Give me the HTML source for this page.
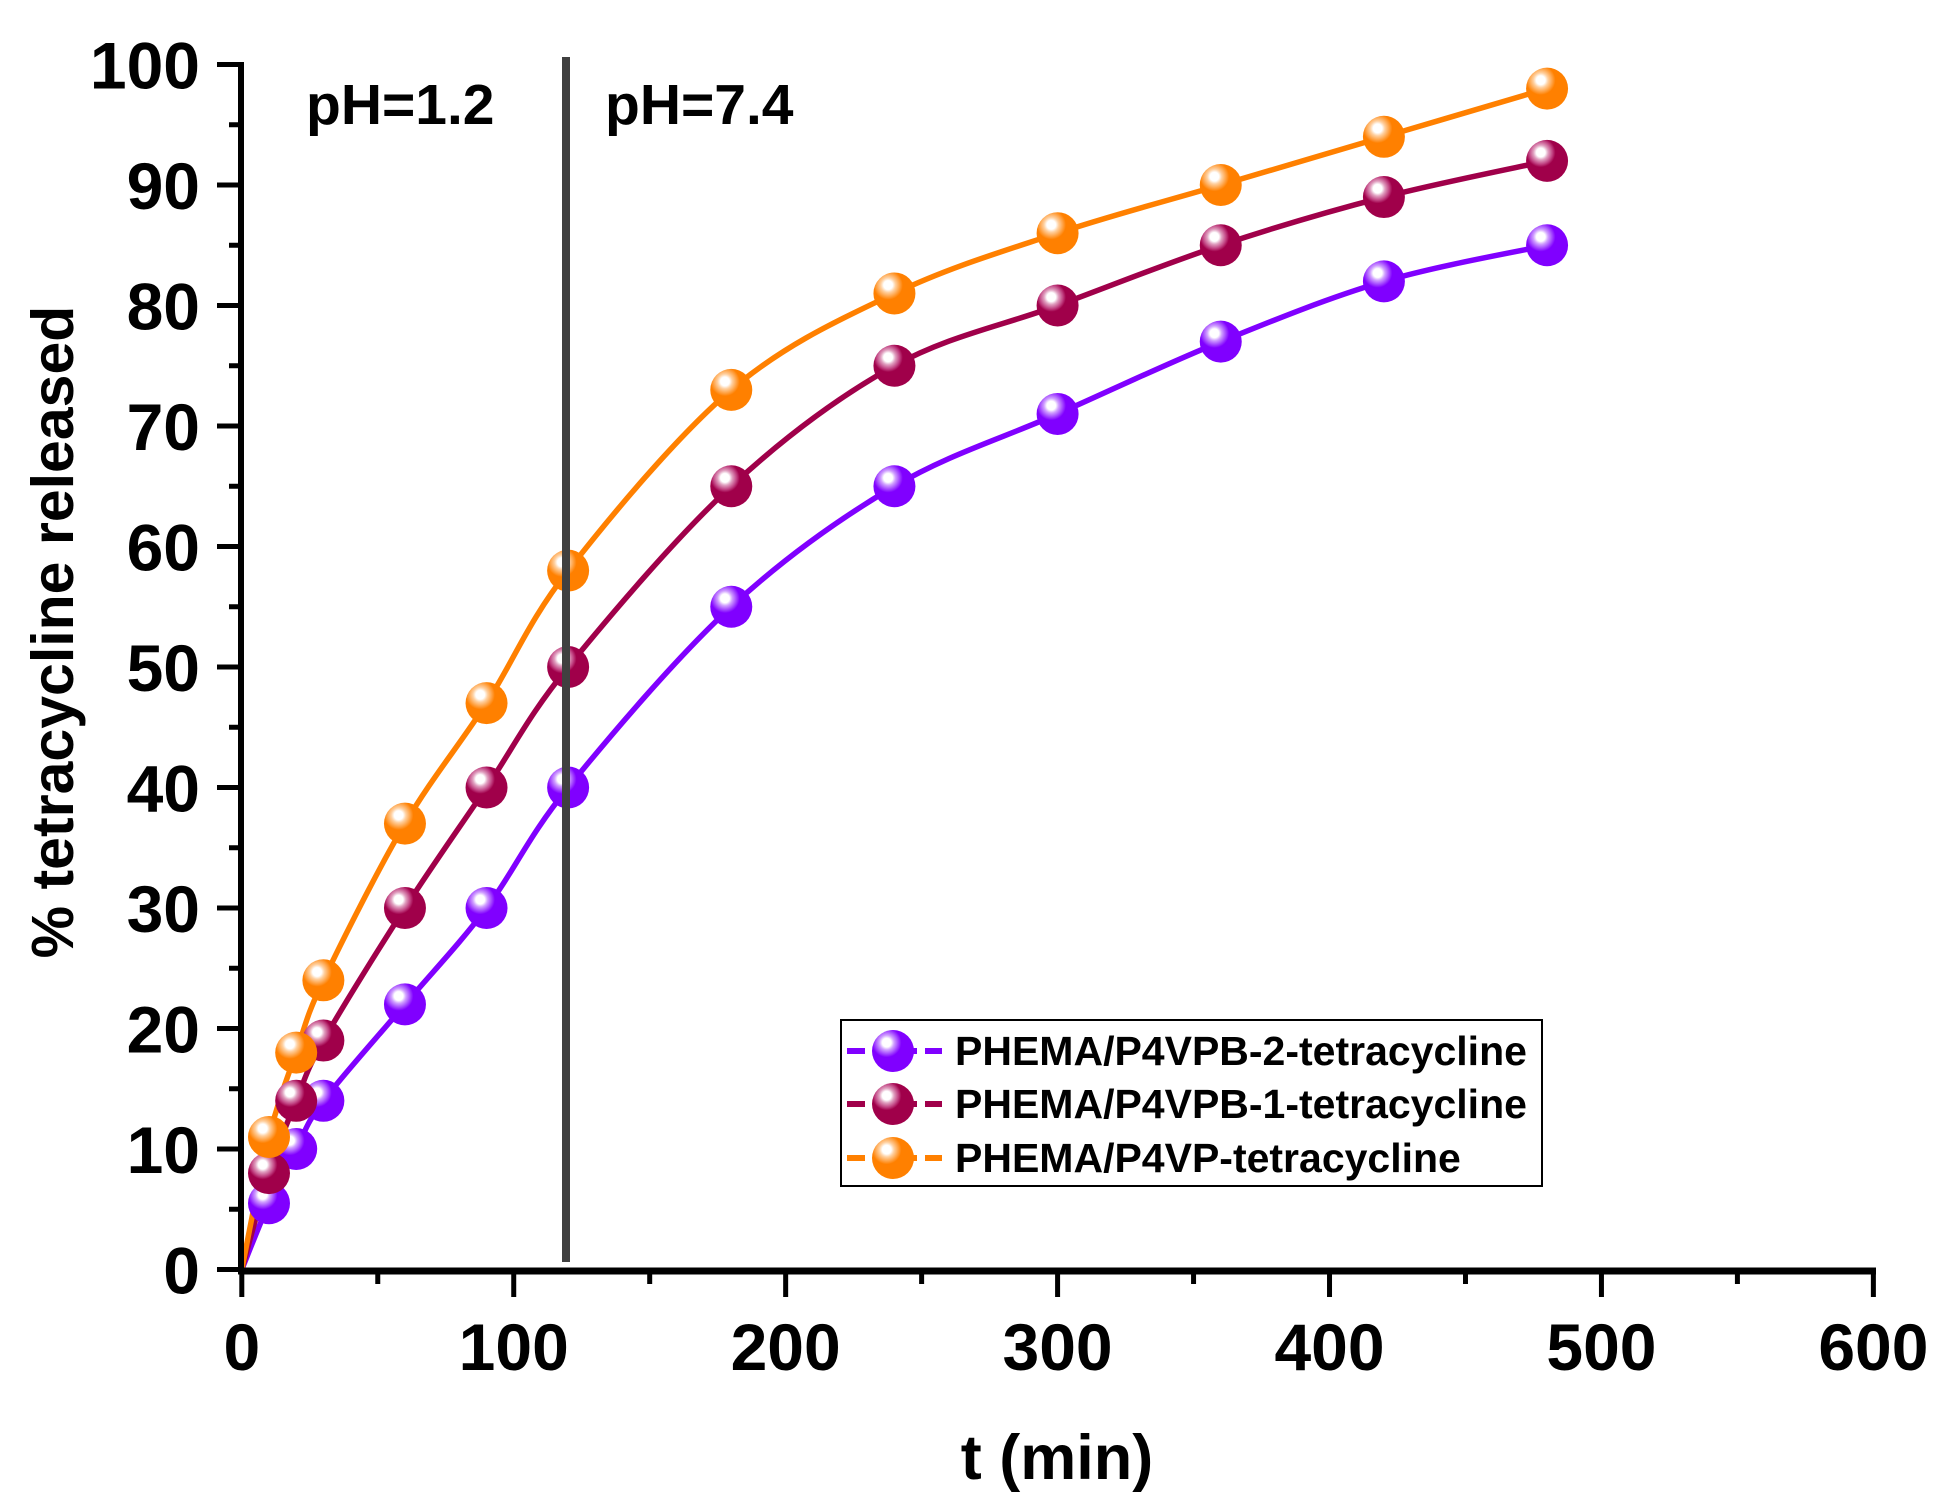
<!DOCTYPE html>
<html><head><meta charset="utf-8"><style>
body{margin:0;background:#fff}
svg{display:block}
text{font-family:"Liberation Sans",Arial,sans-serif;font-weight:bold;fill:#000}
</style></head><body>
<svg id="s" width="1944" height="1511" viewBox="0 0 1944 1511" xmlns="http://www.w3.org/2000/svg">
<defs>
<radialGradient id="gO" cx="0.35" cy="0.3" r="0.7"><stop offset="0" stop-color="#fff"/><stop offset="0.15" stop-color="#fff"/><stop offset="0.25" stop-color="#ffd0a0"/><stop offset="0.4" stop-color="#ffa040"/><stop offset="0.5" stop-color="#ff8000"/><stop offset="1" stop-color="#ff8000"/></radialGradient>
<radialGradient id="gM" cx="0.35" cy="0.3" r="0.7"><stop offset="0" stop-color="#fff"/><stop offset="0.15" stop-color="#fff"/><stop offset="0.25" stop-color="#e0a0c0"/><stop offset="0.4" stop-color="#c04080"/><stop offset="0.5" stop-color="#a0004a"/><stop offset="1" stop-color="#a0004a"/></radialGradient>
<radialGradient id="gP" cx="0.35" cy="0.3" r="0.7"><stop offset="0" stop-color="#fff"/><stop offset="0.15" stop-color="#fff"/><stop offset="0.25" stop-color="#d0a0ff"/><stop offset="0.4" stop-color="#a040ff"/><stop offset="0.5" stop-color="#8000ff"/><stop offset="1" stop-color="#8000ff"/></radialGradient>
</defs>
<g id="plot"></g>
<line x1="241" y1="62" x2="241" y2="1272" stroke="#000" stroke-width="6"/>
<line x1="238" y1="1271" x2="1876" y2="1271" stroke="#000" stroke-width="7"/>
<g id="ticks" stroke="#000" stroke-width="5"></g>
<g id="labels" font-size="66"></g>
<line x1="566" y1="57" x2="566" y2="1262" stroke="#404040" stroke-width="8"/>
<text x="306" y="124" font-size="57">pH=1.2</text>
<text x="605" y="124" font-size="57">pH=7.4</text>
<text transform="translate(73,632) rotate(-90)" text-anchor="middle" font-size="59">% tetracycline released</text>
<text x="1057" y="1479" text-anchor="middle" font-size="63">t (min)</text>
<rect x="841" y="1020" width="701" height="166" fill="#fff" stroke="#000" stroke-width="2"/>
<g id="legend"></g>
</svg>
<script>
var X=function(t){return 241.8+t*2.7193},Y=function(v){return 1269.5-v*12.05};
var t=[0,10,20,30,60,90,120,180,240,300,360,420,480];
var S=[
 {c:"#8000ff",g:"gP",d:[0,5.5,10,14,22,30,40,55,65,71,77,82,85],n:"PHEMA/P4VPB-2-tetracycline"},
 {c:"#a0004a",g:"gM",d:[0,8,14,19,30,40,50,65,75,80,85,89,92],n:"PHEMA/P4VPB-1-tetracycline"},
 {c:"#ff8000",g:"gO",d:[0,11,18,24,37,47,58,73,81,86,90,94,98],n:"PHEMA/P4VP-tetracycline"}];
var ns="http://www.w3.org/2000/svg";
function el(p,n,a){var e=document.createElementNS(ns,n);for(var k in a)e.setAttribute(k,a[k]);p.appendChild(e);return e;}
var plot=document.getElementById("plot");
S.forEach(function(s){
 var P=t.map(function(tt,i){return [X(tt),Y(s.d[i])];});
 var d="M"+P[0][0]+","+P[0][1];
 for(var i=0;i<P.length-1;i++){
  var p0=P[Math.max(i-1,0)],p1=P[i],p2=P[i+1],p3=P[Math.min(i+2,P.length-1)];
  d+=" C"+(p1[0]+(p2[0]-p0[0])/6)+","+(p1[1]+(p2[1]-p0[1])/6)+" "+(p2[0]-(p3[0]-p1[0])/6)+","+(p2[1]-(p3[1]-p1[1])/6)+" "+p2[0]+","+p2[1];
 }
 el(plot,"path",{d:d,fill:"none",stroke:s.c,"stroke-width":5.5});
});
S.forEach(function(s){
 t.forEach(function(tt,i){if(i>0)el(plot,"circle",{cx:X(tt),cy:Y(s.d[i]),r:21,fill:"url(#"+s.g+")"});});
});
var tk=document.getElementById("ticks"),lb=document.getElementById("labels");
for(var v=0;v<=100;v+=5){var y=Y(v);el(tk,"line",{x1:v%10?229:217,y1:y,x2:241,y2:y});
 if(v%10==0){var tx=el(lb,"text",{x:200,y:y+24,"text-anchor":"end"});tx.textContent=v;}}
for(var m=0;m<=600;m+=50){var x=X(m);el(tk,"line",{x1:x,y1:1271,x2:x,y2:m%100?1284:1297});
 if(m%100==0){var tx=el(lb,"text",{x:x,y:1370,"text-anchor":"middle"});tx.textContent=m;}}
var lg=document.getElementById("legend");
[1051,1104,1158].forEach(function(y,i){var s=S[i];
 el(lg,"line",{x1:847,y1:y,x2:942,y2:y,stroke:s.c,"stroke-width":6,"stroke-dasharray":"18,8"});
 el(lg,"circle",{cx:893,cy:y,r:21,fill:"url(#"+s.g+")"});
 var tx=el(lg,"text",{x:955,y:y+14,"font-size":41});tx.textContent=s.n;});
</script>
</body></html>
